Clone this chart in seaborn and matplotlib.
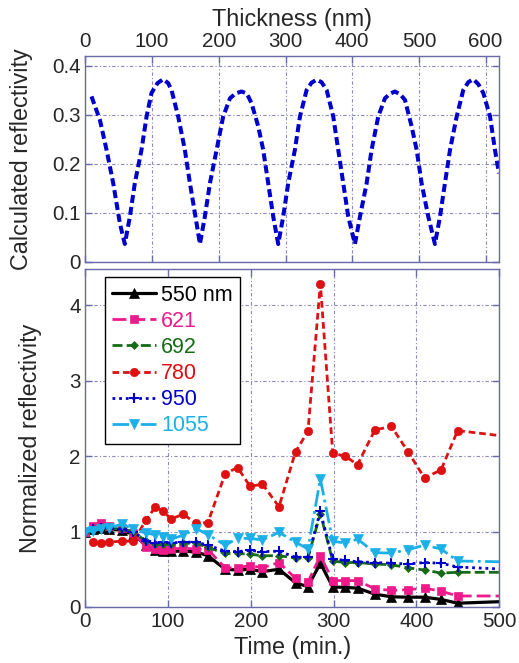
import matplotlib
matplotlib.use("Agg")
import matplotlib.pyplot as plt
import seaborn as sns
import pandas as pd

# ---------------- data ----------------
# top panel: calculated reflectivity vs thickness
thickness = [9, 21.6, 31.6, 41.6, 51.6, 59, 66.6, 74, 84, 91.6, 99, 108, 116.5, 124, 129,
             139, 149, 156.6, 166.6, 171.6, 179, 186.6, 196.6, 206.5, 216.6, 225, 234, 242,
             249, 259, 266.5, 274, 281.5, 289, 296.5, 304, 314, 321.6, 331.6, 339, 346.6,
             354, 361.6, 371.5, 379, 386.5, 394, 404, 411.6, 421.6, 429, 439, 449, 456, 464,
             472, 479, 489, 496.6, 504, 514, 524, 531.6, 539, 546.6, 556.6, 566.5, 574,
             581.5, 589, 596.5, 606.6, 614, 620]
calc_refl = [0.337, 0.289, 0.228, 0.160, 0.078, 0.036, 0.092, 0.160, 0.228, 0.296, 0.344,
             0.364, 0.372, 0.364, 0.350, 0.296, 0.228, 0.160, 0.078, 0.036, 0.092, 0.160,
             0.228, 0.296, 0.333, 0.343, 0.347, 0.343, 0.323, 0.276, 0.228, 0.160, 0.092,
             0.036, 0.092, 0.160, 0.228, 0.296, 0.350, 0.365, 0.371, 0.366, 0.350, 0.296,
             0.228, 0.160, 0.092, 0.036, 0.092, 0.160, 0.228, 0.296, 0.333, 0.342, 0.347,
             0.341, 0.330, 0.276, 0.228, 0.160, 0.092, 0.036, 0.092, 0.160, 0.228, 0.296,
             0.350, 0.366, 0.372, 0.362, 0.344, 0.296, 0.228, 0.180]

# bottom panel: normalized reflectivity vs time
time_min = [0, 9, 19, 29, 44, 58, 73, 84, 94, 103, 118, 134, 148, 169, 184, 199, 214, 234,
            254, 269, 284, 299, 314, 329, 350, 370, 390, 410, 430, 450, 500]
r550 = [1.00, 1.03, 1.05, 1.03, 1.02, 0.96, 0.82, 0.76, 0.74, 0.74, 0.74, 0.73, 0.68, 0.50,
        0.49, 0.50, 0.47, 0.50, 0.32, 0.27, 0.58, 0.265, 0.26, 0.25, 0.17, 0.135, 0.13,
        0.13, 0.10, 0.05, 0.07]
r621 = [1.00, 1.07, 1.12, 1.07, 1.05, 0.98, 0.80, 0.77, 0.75, 0.77, 0.78, 0.77, 0.76, 0.52,
        0.52, 0.55, 0.52, 0.59, 0.38, 0.33, 0.68, 0.35, 0.35, 0.35, 0.24, 0.22, 0.23, 0.25,
        0.21, 0.146, 0.146]
r692 = [1.00, 1.03, 1.06, 1.05, 1.03, 1.00, 0.87, 0.83, 0.83, 0.83, 0.845, 0.845, 0.79,
        0.71, 0.71, 0.70, 0.68, 0.68, 0.65, 0.65, 1.24, 0.61, 0.59, 0.59, 0.57, 0.56, 0.52,
        0.49, 0.45, 0.46, 0.46]
r950 = [1.00, 1.03, 1.05, 1.05, 1.03, 1.00, 0.88, 0.85, 0.86, 0.85, 0.86, 0.86, 0.82, 0.74,
        0.735, 0.75, 0.735, 0.74, 0.66, 0.66, 1.27, 0.63, 0.62, 0.60, 0.59, 0.58, 0.57,
        0.59, 0.58, 0.53, 0.505]
r1055 = [1.00, 1.01, 1.04, 1.05, 1.10, 1.03, 0.98, 0.96, 0.93, 0.90, 0.95, 1.04, 0.96, 0.82,
         0.91, 0.91, 0.89, 0.99, 0.86, 0.77, 1.70, 0.87, 0.85, 0.90, 0.72, 0.715, 0.76,
         0.82, 0.77, 0.61, 0.60]
time_780 = [9, 19, 29, 44, 58, 73, 84, 94, 103, 118, 134, 148, 169, 184, 199, 214, 234,
            254, 269, 284, 299, 314, 329, 350, 370, 390, 410, 430, 450, 500]
r780 = [0.86, 0.85, 0.86, 0.875, 0.87, 1.15, 1.32, 1.28, 1.165, 1.23, 1.11, 1.12, 1.77,
        1.85, 1.60, 1.63, 1.33, 2.06, 2.33, 4.285, 2.04, 2.00, 1.89, 2.35, 2.395, 2.06,
        1.71, 1.82, 2.34, 2.275]

labels = ["550 nm", "621", "692", "780", "950", "1055"]
x_ticks_top = [0, 100, 200, 300, 400, 500, 600]
x_ticks_bottom = [0, 100, 200, 300, 400, 500]

# ---------------- style ----------------
sns.set_style("ticks")
plt.rcParams["font.family"] = ["Liberation Sans", "DejaVu Sans"]
plt.rcParams["axes.linewidth"] = 1.0

spine_c = "#6a6aa8"
grid_c = "#8a8ac0"

fig = plt.figure(figsize=(5.19, 6.63), dpi=100)
ax1 = fig.add_axes([0.1647, 0.6053, 0.7967, 0.3107])
ax2 = fig.add_axes([0.1647, 0.0845, 0.7967, 0.5093])

# ---- top panel ----
df_top = pd.DataFrame({"t": thickness, "r": calc_refl})
sns.lineplot(data=df_top, x="t", y="r", ax=ax1, color="#0000cc", linewidth=2.9,
             dashes=False, sort=False, estimator=None)
ax1.lines[0].set_dashes((2.0, 1.0))
ax1.lines[0].set_dash_capstyle("butt")
ax1.set_xlim(0, 620)
ax1.set_ylim(0, 0.42)
ax1.set_xticks(x_ticks_top)
ax1.set_yticks([0, 0.1, 0.2, 0.3, 0.4])
ax1.set_yticklabels(["0", "0.1", "0.2", "0.3", "0.4"])
ax1.xaxis.tick_top()
ax1.xaxis.set_label_position("top")
ax1.set_xlabel("Thickness (nm)", fontsize=16.8, labelpad=4)
ax1.set_ylabel("Calculated reflectivity", fontsize=16.8)
ax1.yaxis.set_label_coords(-0.127, 0.5)

# ---- bottom panel ----
specs = [
    (time_min, r550, "#000000", "^", 6.5, None, 2.3),
    (time_min, r621, "#ee1a8c", "s", 6.0, (5.0, 1.8), 2.0),
    (time_min, r692, "#176b17", "D", 4.0, (3.6, 1.5), 2.0),
    (time_780, r780, "#dd1111", "o", 6.0, (2.4, 1.4), 2.0),
    (time_min, r950, "#0000cc", "+", 6.5, (1.0, 1.4), 2.0),
    (time_min, r1055, "#1cb0e8", "v", 7.5, (6.0, 1.6, 1.0, 1.6), 2.0),
]
handles = []
for (tx, vals, col, mk, ms, dsh, lw), lab in zip(specs, labels):
    df = pd.DataFrame({"time": tx, "val": vals})
    n_before = len(ax2.lines)
    sns.lineplot(data=df, x="time", y="val", ax=ax2, color=col, marker=mk,
                 markersize=ms, markeredgewidth=1.5 if mk == "+" else 0.5,
                 markeredgecolor=col, linewidth=lw, sort=False, estimator=None,
                 label=lab, markevery=list(range(len(tx) - 1)))
    ln = ax2.lines[n_before]
    if dsh is not None:
        ln.set_dashes(dsh)
    handles.append(ln)

ax2.set_xlim(0, 500)
ax2.set_ylim(0, 4.48)
ax2.set_xticks(x_ticks_bottom)
ax2.set_yticks([0, 1, 2, 3, 4])
ax2.set_xlabel("Time (min.)", fontsize=16.8, labelpad=4)
ax2.set_ylabel("Normalized reflectivity", fontsize=16.8)
ax2.yaxis.set_label_coords(-0.105, 0.5)

leg = ax2.legend(handles=handles, labels=labels, loc="upper left",
                 bbox_to_anchor=(0.047, 0.977), borderaxespad=0, fontsize=15.5,
                 frameon=True, fancybox=False, framealpha=1, edgecolor="black",
                 handlelength=2.0, handletextpad=0.25, labelspacing=0.24,
                 borderpad=0.35, numpoints=1)
leg.get_frame().set_linewidth(1.0)
for txt, (_, _, col, *_) in zip(leg.get_texts(), specs):
    txt.set_color(col)

for ax in (ax1, ax2):
    for s in ax.spines.values():
        s.set_color(spine_c)
        s.set_visible(True)
    ax.tick_params(direction="in", length=5, width=1, color=spine_c,
                   labelsize=14.8, top=True, right=True, bottom=True, left=True)
    ax.grid(True, color=grid_c, linestyle=(0, (3, 2, 1, 2)), linewidth=0.8)
    ax.set_axisbelow(True)

ax1.tick_params(labelbottom=False, labeltop=True)

fig.savefig("out.png", dpi=100)
